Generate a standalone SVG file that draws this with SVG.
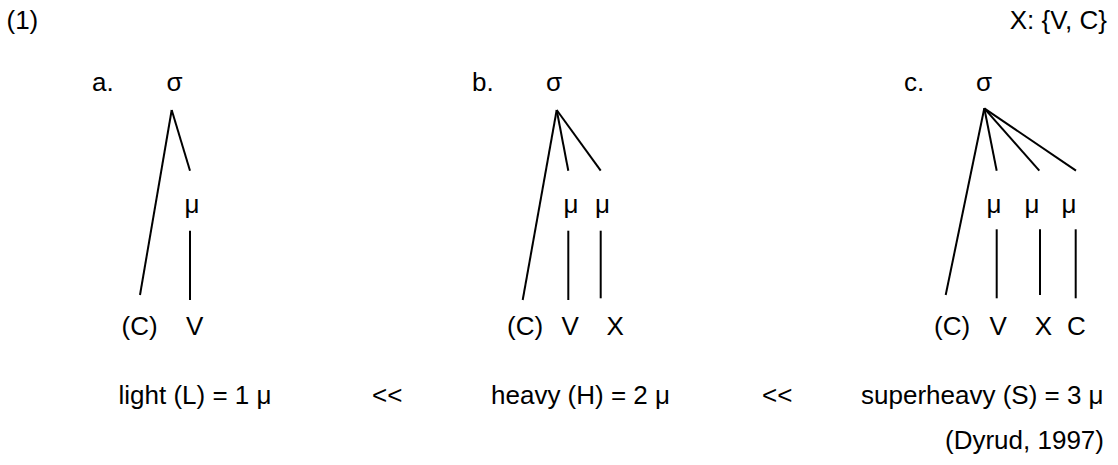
<svg xmlns="http://www.w3.org/2000/svg" width="1118" height="465" viewBox="0 0 1118 465">
<style>
text { font-family: "Liberation Sans", Arial, sans-serif; font-size: 26px; fill: #000; }
.c line { stroke: #000; stroke-width: 2; stroke-linecap: butt; }
.m { text-anchor: middle; }
</style>
<rect width="1118" height="465" fill="#fff"/>
<g id="header">
<text x="6.5" y="29">(1)</text>
<text x="1107" y="29" text-anchor="end">X: {V, C}</text>
</g>
<g id="tree-a">
<text x="92" y="91">a.</text>
<text x="174.5" y="91" class="m">σ</text>
<text x="184.5" y="213">μ</text>
<text x="121.5" y="335">(C)</text>
<text x="186" y="335">V</text>
</g>
<g id="tree-b">
<text x="472" y="91">b.</text>
<text x="554" y="91" class="m">σ</text>
<text x="563.5" y="213">μ</text>
<text x="595" y="213">μ</text>
<text x="507" y="335">(C)</text>
<text x="561.5" y="335">V</text>
<text x="606.5" y="335">X</text>
</g>
<g id="tree-c">
<text x="904" y="91">c.</text>
<text x="984" y="91" class="m">σ</text>
<text x="986.5" y="213">μ</text>
<text x="1024.5" y="213">μ</text>
<text x="1061.5" y="213">μ</text>
<text x="934" y="335">(C)</text>
<text x="989.5" y="335">V</text>
<text x="1034.7" y="335">X</text>
<text x="1067" y="335">C</text>
</g>
<g id="weights">
<text x="118.5" y="404">light (L) = 1 μ</text>
<text x="372" y="404">&lt;&lt;</text>
<text x="491" y="404">heavy (H) = 2 μ</text>
<text x="762" y="404">&lt;&lt;</text>
<text x="861" y="404">superheavy (S) = 3 μ</text>
</g>
<g id="citation">
<text x="945" y="449">(Dyrud, 1997)</text>
</g>
<g id="connectors" class="c">
<line x1="171.7" y1="110" x2="140" y2="295"/>
<line x1="171.7" y1="110" x2="190" y2="170.7"/>
<line x1="190" y1="230.7" x2="190" y2="300"/>
<line x1="556.7" y1="110" x2="522.7" y2="300"/>
<line x1="556.7" y1="110" x2="568.3" y2="170.7"/>
<line x1="556.7" y1="110" x2="600.7" y2="170.7"/>
<line x1="568.3" y1="230.7" x2="568.3" y2="300"/>
<line x1="600.7" y1="230.7" x2="600.7" y2="298.3"/>
<line x1="984.3" y1="108.3" x2="945.7" y2="295"/>
<line x1="984.3" y1="108.3" x2="996.7" y2="170.7"/>
<line x1="984.3" y1="108.3" x2="1039.3" y2="170.7"/>
<line x1="984.3" y1="108.3" x2="1076" y2="170.7"/>
<line x1="996.7" y1="229.3" x2="996.7" y2="298.3"/>
<line x1="1040" y1="229.3" x2="1040" y2="295"/>
<line x1="1075.7" y1="229.3" x2="1075.7" y2="298.3"/>
</g>
</svg>
